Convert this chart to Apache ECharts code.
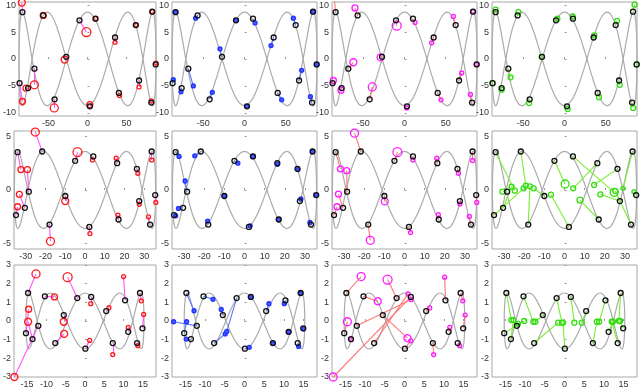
<!DOCTYPE html>
<html>
<head>
<meta charset="utf-8">
<script src="https://cdn.jsdelivr.net/npm/echarts@6/dist/echarts.min.js"></script>
<style>
html,body{margin:0;padding:0;background:#fff;}
#main{width:640px;height:389px;}
</style>
</head>
<body>
<div id="main"></div>
<script>
// gray loop shape in units of half width / amplitude
var loopU = [1,.9969,.9877,.9724,.9511,.9239,.891,.8526,.809,.7604,.7071,.6494,.5878,.5225,.454,.3827,.309,.2334,.1564,.0785,0,
  -.0785,-.1564,-.2334,-.309,-.3827,-.454,-.5225,-.5878,-.6494,-.7071,-.7604,-.809,-.8526,-.891,-.9239,-.9511,-.9724,-.9877,-.9969,-1];
var loopV = [0,.3827,.7071,.9239,1,.9239,.7071,.3827,0,-.3827,-.7071,-.9239,-1,-.9239,-.7071,-.3827,
  0,.3827,.7071,.9239,1,.9239,.7071,.3827,0,-.3827,-.7071,-.9239,-1,-.9239,-.7071,-.3827,
  0,.3827,.7071,.9239,1,.9239,.7071,.3827,0];
var curveHalfWidth = [88, 35.8, 15.3];
var curveAmp = [8.7, 3.6, 1.5];

// axis limits per row
var xLimit = [88, 36, 18.4];
var yLimit = [10.6, 5.5, 3];
var xSplit = [4, 7, 7];
var ySplit = [4, 2, 6];

// true positions (black)
var r1Black = [[-83.6,8.7],[-87.3,-4.5],[-76.3,-5.4],[-68.2,-1.8],[-56.9,8.1],[-42.3,-7.5],[-27.3,0.4],[-10.3,7.2],[3.0,-8.8],[10.3,7.5],[35.4,4.0],[40.3,-6.3],[62.1,6.3],[66.2,-4.0],[82.0,-8.1],[83.2,8.8],[87.6,-1.0]];
var r2Black = [[-34.2,3.53],[-35.0,-2.34],[-30.5,-1.66],[-28.5,-0.16],[-21.7,3.59],[-18.0,-3.22],[-10.0,-0.56],[-5.0,2.72],[2.2,-3.44],[4.2,3.13],[16.3,2.5],[17.0,-2.75],[26.3,1.97],[27.5,-1.03],[33.0,-3.22],[33.8,3.59],[35.6,-0.47]];
var r3Black = [[-14.75,1.5],[-15.3,-0.65],[-13.6,-0.97],[-12.1,-0.26],[-10.4,1.32],[-7.7,-1.18],[-5.5,0.32],[-2.0,1.23],[0.1,-1.48],[1.6,1.29],[5.5,0.53],[7.2,-1.18],[10.4,1.11],[11.2,-0.58],[13.5,-1.18],[14.25,1.5],[14.9,-0.39]];

// estimates [x, y, marker size], same order as the black points
var r1Red = [[-84.4,10.5,7],[-83.6,-7.9,6],[-79.1,-5.4,6],[-68.2,-4.8,8],[-56.9,8.1,6],[-42.7,-9.1,8],[-29.4,-0.1,7],[-1.4,5.0,9],[3.0,-8.5,6],[10.3,7.5,4],[35.4,3.1,4],[41.1,-6.8,4],[62.1,6.3,4],[66.2,-5.2,4],[82.0,-7.8,4],[83.2,8.8,4],[88.0,-0.75,4]];
var r1Blue = [[-84,8.7,4],[-86.4,-3.85,4],[-77.1,-6.1,4],[-62.1,-5.0,4],[-59.3,7.6,4],[-39.1,-6.2,4],[-29.8,1.9,4],[-10.3,7.2,4],[3.0,-8.8,4],[12.8,6.7,4],[32.2,2.5,4],[45.1,-7.6,4],[59.3,7.6,4],[69.4,-2.1,4],[80,-7.0,4],[83.2,8.8,4],[87.6,-1.0,4]];
var r1Magenta = [[-85.5,11.8,7],[-86.4,-4.0,6],[-77.1,-5.8,6],[-62.1,-0.6,7],[-60.1,9.5,6],[-39.1,-5.2,8],[-29,0.3,7],[-9.5,6.2,9],[2.6,-9.1,4],[12.8,6.8,4],[33,3.0,4],[44.3,-7.6,4],[59.3,7.9,4],[69.4,-2.6,4],[80,-6.6,4],[83.2,8.8,4],[87.6,-1.0,4]];
var r1Green = [[-83.6,9.2,5],[-87.3,-4.5,5],[-76.3,-5.7,5],[-65.5,-3.4,5],[-56,8.7,5],[-43,-8.2,5],[-27.7,0.37,5],[-8.7,7.5,5],[3.8,-9.3,5],[9.9,7.9,5],[36.2,4.4,5],[41.9,-7.1,5],[63.8,7.1,5],[67,-4.8,5],[83.4,-9.1,5],[85,10.1,5],[87.6,-1.0,5]];

var r2Red = [[-32.5,1.9,6],[-34.2,-1.56,6],[-33.3,-0.4,6],[-29.2,1.9,6],[-25.2,5.4,8],[-17.5,-4.78,8],[-10,-1.03,7],[-3.8,3.53,9],[2.5,-4.06,4],[3.8,2.8,4],[15.8,2.97,4],[16.7,-2.34,4],[26.8,1.56,4],[27.5,-1.34,4],[32.2,-2.5,4],[33.8,2.8,4],[35.9,-1.16,4]];
var r2Blue = [[-32.5,3.13,4],[-34.2,-2.4,4],[-32.8,-1.72,4],[-29.5,0.84,4],[-24.7,3.19,4],[-18.3,-2.9,4],[-10.0,-0.56,4],[-3.3,2.5,4],[2.8,-3.34,4],[4.2,3.13,4],[16.3,2.4,4],[17.0,-2.75,4],[26.5,1.9,4],[28,-0.84,4],[32.5,-3.03,4],[33.8,3.59,4],[35.6,-0.47,4]];
var r2Magenta = [[-31.8,1.97,6],[-33.5,-1.56,6],[-32.8,-0.38,6],[-28.7,1.8,6],[-24.8,5.3,8],[-17,-4.69,8],[-9.8,-1.06,7],[-3.5,3.53,9],[3,-3.97,4],[4.2,2.8,4],[16,2.97,4],[16.8,-2.3,4],[26.8,1.56,4],[27.5,-1.3,4],[32.2,-2.47,4],[33.8,2.75,4],[35.9,-1.16,4]];
var r2Green = [[-24.7,-0.06,5],[-20.3,0.16,5],[-26.3,0.31,5],[-30.8,-0.16,5],[-19.2,0.41,5],[-17.2,0.34,5],[-15.3,0.16,5],[0.3,0.56,8],[-6.7,-0.44,5],[24.7,-0.22,8],[4.3,0.16,5],[7.7,-0.94,6],[14.7,0.47,5],[17.8,-0.41,5],[25.2,-0.1,5],[29.0,0.16,4],[34.5,-0.16,4]];

var r3Red = [[-12.7,2.52,8],[-14.6,0.63,6],[-14.75,-0.04,7],[-18.3,-3.0,7],[-7.9,1.29,6],[-5.4,-0.69,7],[-5.5,-0.04,7],[-4.5,2.35,9],[1.2,-1.04,4],[1.5,0.93,4],[6.2,0.71,4],[7.2,-1.8,4],[10.0,2.38,4],[11.2,-0.34,4],[13.7,-1.32,4],[14.6,1.08,4],[15.2,0.35,4]];
var r3Blue = [[-12.8,0.55,4],[-14.7,-0.04,4],[-14.8,-0.97,4],[-18.0,-0.04,4],[-8.0,1.16,4],[-4.9,-0.69,4],[-5.9,0.62,4],[-4.5,-0.56,4],[1.2,-1.41,4],[1.6,1.27,4],[6.2,0.93,4],[7.2,-1.2,4],[10.1,0.93,4],[11.2,-0.6,4],[13.75,-1.36,4],[14.25,1.48,4],[15.0,-0.42,4]];
var r3Magenta = [[-11,2.38,8],[-14.5,-0.04,8],[-13.5,-1.0,4],[1.7,1.15,4],[-6.8,1.06,7],[0.9,1.45,4],[0.75,-0.92,7],[-4.3,2.22,9],[1.6,-1.06,4],[-18.1,-3.0,8],[6.4,0.7,4],[7.4,-1.8,4],[10.2,2.35,4],[11.5,-0.34,4],[14,-1.32,4],[14.8,1.08,4],[15.4,0.32,4]];
var r3Green = [[-13.5,0.05,5],[-10.2,0,5],[-12.95,0.05,5],[-11.8,-0.15,5],[-7.9,-0.04,5],[-1.6,-0.09,5],[-7.4,-0.04,5],[-0.65,-0.09,5],[-0.4,-0.09,5],[2.5,-0.09,5],[4.4,-0.09,5],[8.2,-0.04,5],[8.8,-0.04,5],[12.3,-0.04,5],[12.0,-0.04,5],[13.8,0,5],[14.1,0,5]];

var blackRows = [r1Black, r2Black, r3Black];
var estRows = [[r1Red, r1Blue, r1Magenta, r1Green],[r2Red, r2Blue, r2Magenta, r2Green],[r3Red, r3Blue, r3Magenta, r3Green]];

var markerColors = ['#ff1a1a', '#2233ff', '#ff1aff', '#33dd11'];
var markerFill = ['rgba(0,0,0,0)', '#4a5cff', 'rgba(0,0,0,0)', 'rgba(0,0,0,0)'];
var linkColors = ['#ff55ff', '#5577ff', '#ff7777', '#77ee33'];

var colLeft = [11, 172, 332, 492], colW = 145;
var rowTop = [2, 131, 265], rowH = [114, 118, 115];

var chart = echarts.init(document.getElementById('main'));
var grids = [], xAxes = [], yAxes = [], series = [];
var labelFont = {fontSize: 9, color: '#333', fontFamily: 'Liberation Sans, Arial, sans-serif'};

for (var r = 0; r < 3; r++) {
  for (var c = 0; c < 4; c++) {
    var g = r * 4 + c;
    grids.push({left: colLeft[c], top: rowTop[r], width: colW, height: rowH[r],
      show: true, borderColor: '#a8a8a8', borderWidth: 1, backgroundColor: '#fff'});
    xAxes.push({type: 'value', gridIndex: g, min: -xLimit[r], max: xLimit[r], splitNumber: xSplit[r],
      splitLine: {show: false}, axisLine: {show: false},
      axisTick: {inside: true, length: 2, lineStyle: {color: '#999'}},
      axisLabel: Object.assign({margin: 3, showMinLabel: false, showMaxLabel: false}, labelFont)});
    yAxes.push({type: 'value', gridIndex: g, min: -yLimit[r], max: yLimit[r], splitNumber: ySplit[r],
      splitLine: {show: false}, axisLine: {show: false},
      axisTick: {inside: true, length: 2, lineStyle: {color: '#999'}},
      axisLabel: Object.assign({margin: 3, showMinLabel: r == 2, showMaxLabel: r == 2}, labelFont)});

    var up = [], down = [];
    for (var k = 0; k < loopU.length; k++) {
      up.push([loopU[k] * curveHalfWidth[r], loopV[k] * curveAmp[r]]);
      down.push([loopU[k] * curveHalfWidth[r], -loopV[k] * curveAmp[r]]);
    }
    [up, down].forEach(function (d) {
      series.push({type: 'line', xAxisIndex: g, yAxisIndex: g, data: d, smooth: 0.4, showSymbol: false,
        silent: true, lineStyle: {color: '#ababab', width: 1.2}, z: 1});
    });

    var black = blackRows[r], est = estRows[r][c];
    var links = [];
    for (var i = 0; i < black.length; i++) {
      links.push({coords: [[black[i][0], black[i][1]], [est[i][0], est[i][1]]]});
    }
    series.push({type: 'lines', coordinateSystem: 'cartesian2d', xAxisIndex: g, yAxisIndex: g,
      data: links, clip: true, silent: true,
      lineStyle: {color: linkColors[c], width: 1.1, opacity: 1}, z: 2});
    series.push({type: 'scatter', xAxisIndex: g, yAxisIndex: g, clip: true, z: 3,
      data: est.map(function (p) { return {value: [p[0], p[1]], symbolSize: p[2]}; }),
      itemStyle: {color: markerFill[c], borderColor: markerColors[c], borderWidth: 1.3, opacity: 1}});
    series.push({type: 'scatter', xAxisIndex: g, yAxisIndex: g, clip: true, z: 4, symbolSize: 5,
      data: black,
      itemStyle: {color: 'rgba(0,0,0,0)', borderColor: '#111', borderWidth: 1.3, opacity: 1}});
  }
}

chart.setOption({animation: false, grid: grids, xAxis: xAxes, yAxis: yAxes, series: series});
</script>
</body>
</html>
